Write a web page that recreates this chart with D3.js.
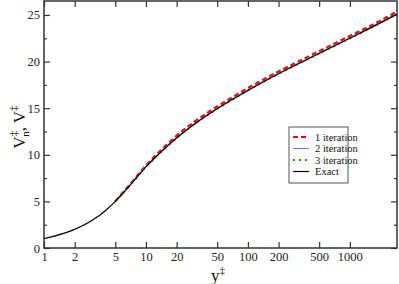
<!DOCTYPE html>
<html>
<head>
<meta charset="utf-8">
<script src="https://cdn.jsdelivr.net/npm/d3@7"></script>
<style>
  body { margin: 0; background: #fff; }
</style>
</head>
<body>
<div id="chart"></div>
<script>
// values
var yPlus  = [1, 2, 3, 4, 5, 7, 10, 15, 20, 30, 42, 71, 100, 200, 377, 500, 1000, 2295, 2900];
var exact  = [1, 2, 3, 4, 5, 6.75, 8.7, 10.6, 11.8, 13.3, 14.4, 15.95, 16.9, 18.7, 20.2, 20.87, 22.5, 24.5, 25.1];
var yIter  = [5, 7, 10, 15, 20, 30, 42, 71, 100, 200, 377, 500, 1000, 2295, 2900];
var iter1  = [5, 6.85, 8.85, 10.8, 12.05, 13.55, 14.65, 16.2, 17.15, 18.95, 20.45, 21.12, 22.75, 24.75, 25.38];
var iter2  = [5, 6.78, 8.75, 10.66, 11.87, 13.37, 14.47, 16.02, 16.97, 18.77, 20.27, 20.94, 22.57, 24.58, 25.18];
var iter3  = [5, 6.75, 8.7, 10.6, 11.8, 13.3, 14.4, 15.95, 16.9, 18.7, 20.2, 20.87, 22.5, 24.5, 25.1];
var xTicks = [1, 2, 5, 10, 20, 50, 100, 200, 500, 1000];
var yTicks = [0, 5, 10, 15, 20, 25];
var yMinor = [2.5, 7.5, 12.5, 17.5, 22.5];
var legendLabels = ["1 iteration", "2 iteration", "3 iteration", "Exact"];

var FONT = "Liberation Serif";

var W = 399, H = 284;
var margin = {top: 1, right: 2, bottom: 36, left: 44};
var width = W - margin.left - margin.right,
    height = H - margin.top - margin.bottom;

var svg = d3.select("#chart").append("svg")
    .attr("width", W).attr("height", H);
var g = svg.append("g")
    .attr("transform", "translate(" + margin.left + "," + margin.top + ")");

var x = d3.scaleLog().domain([1, 2900]).range([0, width]);
var y = d3.scaleLinear().domain([0, 26.5]).range([height, 0]);

var axisColor = "#333";

// axes: ticks point inward on all four sides
g.append("g").attr("transform", "translate(0," + height + ")")
    .call(d3.axisBottom(x).tickValues(xTicks).tickSizeInner(-6).tickSizeOuter(0)
      .tickPadding(4).tickFormat(d3.format("d")));
g.append("g")
    .call(d3.axisTop(x).tickValues(xTicks).tickSizeInner(-6).tickSizeOuter(0).tickFormat(""));
g.append("g")
    .call(d3.axisLeft(y).tickValues(yTicks).tickSizeInner(-6).tickSizeOuter(0).tickPadding(4));
g.append("g")
    .call(d3.axisLeft(y).tickValues(yMinor).tickSizeInner(-3).tickSizeOuter(0).tickFormat(""));
g.append("g").attr("transform", "translate(" + width + ",0)")
    .call(d3.axisRight(y).tickValues(yTicks).tickSizeInner(-6).tickSizeOuter(0).tickFormat(""));
g.append("g").attr("transform", "translate(" + width + ",0)")
    .call(d3.axisRight(y).tickValues(yMinor).tickSizeInner(-3).tickSizeOuter(0).tickFormat(""));

g.selectAll(".domain").remove();
g.selectAll(".tick line").attr("stroke", axisColor).attr("stroke-width", 1.2);
g.selectAll(".tick text").attr("font-size", 12.5).attr("fill", "#222");

g.append("rect").attr("width", width).attr("height", height)
    .attr("fill", "none").attr("stroke", axisColor).attr("stroke-width", 1.5);

var line = d3.line().curve(d3.curveMonotoneX)
    .x(function(d) { return x(d[0]); })
    .y(function(d) { return y(d[1]); });

var series = [
  {xs: yIter, ys: iter1, color: "#ff0000", w: 2.2, dash: "5,3"},
  {xs: yIter, ys: iter2, color: "#6f6fff", w: 1, dash: null},
  {xs: yIter, ys: iter3, color: "#00aa00", w: 2, dash: "2,4"},
  {xs: yPlus, ys: exact, color: "#000", w: 1.2, dash: null}
];

series.forEach(function(s) {
  g.append("path")
    .datum(d3.zip(s.xs, s.ys))
    .attr("fill", "none")
    .attr("stroke", s.color)
    .attr("stroke-width", s.w)
    .attr("stroke-dasharray", s.dash)
    .attr("d", line);
});

// legend
var lg = svg.append("g").attr("transform", "translate(289,127)");
lg.append("rect").attr("width", 59).attr("height", 56)
    .attr("fill", "#fff").attr("stroke", "#555").attr("stroke-width", 1);
series.forEach(function(s, i) {
  var yy = 10 + i * 11.5;
  lg.append("line").attr("x1", 4).attr("x2", 20).attr("y1", yy).attr("y2", yy)
    .attr("stroke", s.color).attr("stroke-width", s.w).attr("stroke-dasharray", s.dash);
  lg.append("text").attr("x", 26).attr("y", yy + 3.5)
    .attr("font-size", 10.5).attr("fill", "#111").text(legendLabels[i]);
});

// axis titles
var xt = svg.append("text").attr("x", 218).attr("y", 281)
    .attr("text-anchor", "middle").attr("font-size", 17).attr("fill", "#111");
xt.append("tspan").text("y");
xt.append("tspan").attr("font-size", 11).attr("dy", -7).text("\u2021");

var yt = svg.append("text")
    .attr("transform", "translate(25,127) rotate(-90)")
    .attr("text-anchor", "middle").attr("font-size", 17).attr("fill", "#111");
yt.append("tspan").text("V");
yt.append("tspan").attr("font-size", 11).attr("dy", -8).text("\u2021");
yt.append("tspan").attr("font-size", 11).attr("dx", -6).attr("dy", 12).text("n");
yt.append("tspan").attr("dy", -4).text(", V");
yt.append("tspan").attr("font-size", 11).attr("dy", -8).text("\u2021");

// every text in the serif face
svg.selectAll("text").attr("font-family", FONT).style("font-family", FONT);
</script>
</body>
</html>
